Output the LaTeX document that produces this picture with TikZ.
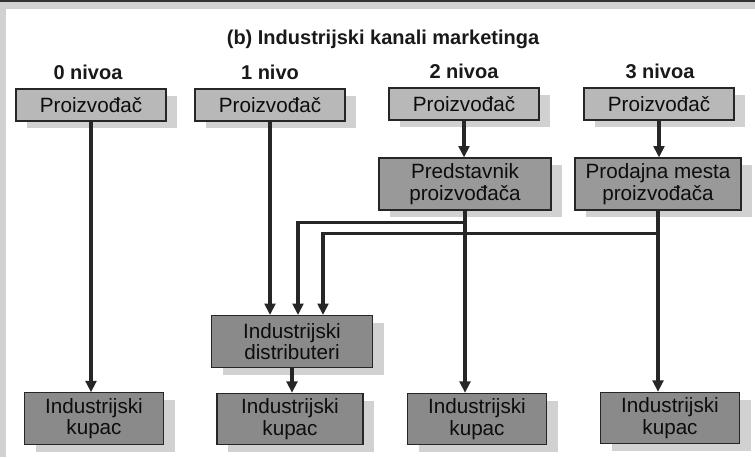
\documentclass[tikz,border=0pt]{standalone}
\usepackage{fontspec}
\setmainfont{Liberation Sans}
\usetikzlibrary{arrows.meta,calc,shadows}
\definecolor{lightbox}{gray}{0.72}
\definecolor{midbox}{gray}{0.60}
\definecolor{darkbox}{gray}{0.54}

\begin{document}
\begin{tikzpicture}[
    x=0.75pt,y=-0.75pt,
    box/.style={draw=black!85,line width=0.8pt,align=center,inner sep=0pt,
        font=\fontsize{15.5}{16}\selectfont,text=black!95,
        drop shadow={shadow xshift=8.5pt,shadow yshift=-5.5pt,fill=black!18,opacity=1}},
    maker/.style={box,fill=lightbox,minimum width=112.5pt,minimum height=24pt},
    agent/.style={box,fill=midbox,minimum height=39pt},
    buyer/.style={box,fill=darkbox,minimum width=104pt,minimum height=38.5pt},
    level/.style={font=\fontsize{15}{17}\selectfont\bfseries,text=black!90},
    flow/.style={-{Triangle[length=8.5pt,width=8pt]},line width=2.3pt,black!85}
]
\useasboundingbox (0,0) rectangle (755,457);
% frame of the scan
\fill[black!18] (0,0) rectangle (6,457);
\fill[black!18] (0,0) rectangle (755,9);
\fill[black!80] (0,0) rectangle (755,2);

\node[level] (title) at (383,39) {(b) Industrijski kanali marketinga};
\node[level] (lab0) at (88,72) {0 nivoa};
\node[level] (lab1) at (270,72) {1 nivo};
\node[level] (lab2) at (464,71) {2 nivoa};
\node[level] (lab3) at (660,71) {3 nivoa};

\node[maker] (p1) at (91,105) {Proizvođač};
\node[maker] (p2) at (270,105) {Proizvođač};
\node[maker] (p3) at (464,104) {Proizvođač};
\node[maker] (p4) at (659,104) {Proizvođač};

\node[agent,minimum width=129pt] (pred) at (465,184) {Predstavnik\\proizvođača};
\node[agent,minimum width=124.5pt] (prod) at (658,184) {Prodajna mesta\\proizvođača};
\node[agent,fill=darkbox,minimum width=121pt] (dist) at (292,341.5) {Industrijski\\distributeri};

\node[buyer] (k1) at (94,418.5) {Industrijski\\kupac};
\node[buyer,minimum width=109.5pt] (k2) at (290,419) {Industrijski\\kupac};
\node[buyer] (k3) at (477,419) {Industrijski\\kupac};
\node[buyer] (k4) at (670,418) {Industrijski\\kupac};

\draw[flow] (p1) -- (p1 |- k1.north);
\draw[flow] (p2) -- (p2 |- dist.north);
\draw[flow] (p3) -- (p3 |- pred.north);
\draw[flow] (p4) -- (p4 |- prod.north);
\draw[flow] (pred) -- (pred |- k3.north);
\draw[flow] (prod) -- (prod |- k4.north);
\draw[flow] (pred.south) -- ++(0,12) -| ($(dist.north)+(6,0)$);
\draw[flow] (prod.south) -- ++(0,23) -| ($(dist.north)+(31,0)$);
\draw[flow] (dist) -- (dist |- k2.north);
\end{tikzpicture}
\end{document}
